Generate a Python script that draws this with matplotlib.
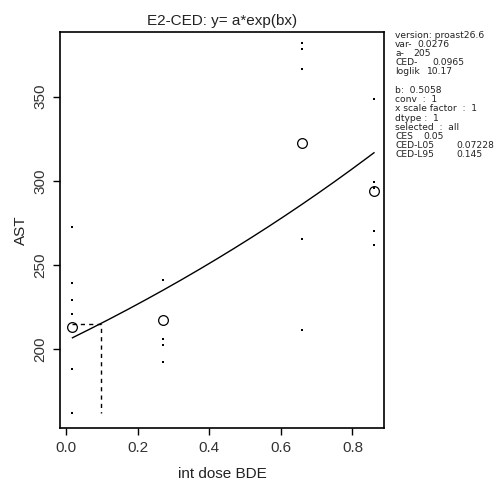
import numpy as np
import matplotlib
matplotlib.use("Agg")
from matplotlib import pyplot as plt

plt.rcParams['font.family'] = ['Liberation Sans', 'DejaVu Sans']

# observed individual values per dose group
dose_obs = [0.018] * 6 + [0.27] * 4 + [0.66] * 5 + [0.86] * 5
ast_obs = [272.8, 239.2, 229.3, 220.8, 188.3, 162.0,
           241.2, 206.0, 202.5, 192.3,
           382.0, 378.5, 366.3, 265.3, 211.3,
           348.6, 299.6, 270.2, 261.9, 296.0]

# group means (circles)
dose_grp = [0.018, 0.27, 0.66, 0.86]
ast_mean = [213.4, 217.4, 322.3, 294.1]

# fitted model y = a*exp(bx)
a_par = 205
b_par = 0.5058
ced = 0.0965

info_lines = [
    ("version: proast26.6", ""),
    ("var-", "0.0276"),
    ("a-", "205"),
    ("CED-", "0.0965"),
    ("loglik", "10.17"),
    ("", ""),
    ("b:  0.5058", ""),
    ("conv  :  1", ""),
    ("x scale factor  :  1", ""),
    ("dtype :  1", ""),
    ("selected  :  all", ""),
    ("CES", "0.05"),
    ("CED-L05", "0.07228"),
    ("CED-L95", "0.145"),
]
value_x = [0, 417, 413, 432, 427, 0, 0, 0, 0, 0, 0, 423, 456, 456]


def main():
    fig = plt.figure(figsize=(4.96, 4.8), dpi=100)
    ax = fig.add_axes([60 / 496, 1 - 428 / 480, 324 / 496, 396 / 480])

    xs = np.linspace(min(dose_grp), max(dose_grp), 200)
    ax.plot(xs, a_par * np.exp(b_par * xs), color='black', lw=1.0)

    ax.plot(dose_obs, ast_obs, ls='none', marker='s', ms=1.8, color='black', mew=0)
    ax.plot(dose_grp, ast_mean, ls='none', marker='o', ms=7, mfc='none',
            mec='black', mew=0.9)

    y_ced = a_par * np.exp(b_par * ced)
    ax.plot([min(dose_grp), ced, ced], [y_ced, y_ced, min(ast_obs)],
            color='black', lw=1.0, ls=(0, (3, 3)))

    ax.set_xlim(-0.0168, 0.888)
    ax.set_ylim(153.3, 388.4)
    ax.set_xticks([0.0, 0.2, 0.4, 0.6, 0.8])
    ax.set_xticklabels(['0.0', '0.2', '0.4', '0.6', '0.8'])
    ax.set_yticks([200, 250, 300, 350])
    for lab in ax.get_yticklabels():
        lab.set_rotation(90)
        lab.set_va('center')
    ax.tick_params(direction='out', length=5, width=1, labelsize=11,
                   labelcolor='#333333', pad=4)
    for sp in ax.spines.values():
        sp.set_linewidth(1.2)

    ax.set_xlabel('int dose BDE', fontsize=11, color='#222222', labelpad=9)
    ax.set_ylabel('AST', fontsize=11, color='#222222', labelpad=4)
    ax.set_title('E2-CED: y= a*exp(bx)', fontsize=11, pad=5, color='#222222')

    for i, (lab, val) in enumerate(info_lines):
        y = 1 - (35 + i * 9.23) / 480
        if lab:
            fig.text(395 / 496, y, lab, fontsize=6.6, va='center', ha='left',
                     family='DejaVu Sans', color='#222222')
        if val:
            fig.text(value_x[i] / 496, y, val, fontsize=6.6, va='center', ha='left',
                     family='DejaVu Sans', color='#222222')

    fig.savefig('out.png', dpi=100)


if __name__ == '__main__':
    main()
